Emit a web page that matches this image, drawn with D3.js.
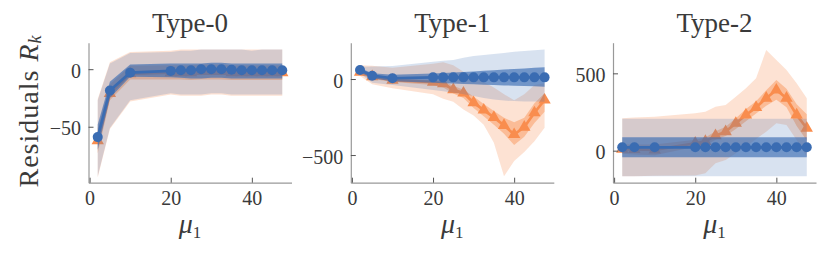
<!DOCTYPE html>
<html>
<head>
<meta charset="utf-8">
<script src="https://cdn.jsdelivr.net/npm/d3@7"></script>
<style>
body { margin: 0; background: #fff; }
text { font-family: "Liberation Serif", serif; fill: #3a3a3a; }
</style>
</head>
<body>
<svg width="830" height="253"></svg>
<script>
// x positions (mu_1) shared by every panel
var mu = [2, 5, 10, 20, 22.5, 25, 27.5, 30, 32.5, 35, 37.5, 40, 42.5, 45, 47.5];
var titles = ["Type-0", "Type-1", "Type-2"];
var xTicks = [0, 20, 40];
var yTicks = [[-50, 0], [-500, 0], [0, 500]];
var xDomain = [-0.275, 49.775];
var yDomains = [[-98.6, 23], [-682, 239], [-207, 698]];

// Type-0
var t0BlueMean  = [-59, -18.5, -3, -1.5, -1, -1, 0, 0, 0, -0.5, -1, -1, -1, -1, -1];
var t0BlueInLo  = [-70, -25, -6.5, -7, -7.5, -8, -8, -7.5, -7.5, -8, -8, -8, -8, -8, -8];
var t0BlueInHi  = [-48, -11, 4, 5, 5, 5, 5, 5.5, 5.5, 5, 5, 5, 5, 5, 5];
var t0BlueOutLo = [-93, -51, -27, -21, -22, -22, -22, -21, -21, -22, -22, -22, -22, -22, -22];
var t0BlueOutHi = [-27, 5, 14, 15, 16, 16, 17, 17, 17, 17, 17, 16, 17, 17, 17];
var t0OrgMean   = [-62, -21, -4, -3, -3, -3, -2, -2, -2, -3, -3, -3, -3, -3, -3];
var t0OrgInLo   = [-73, -27, -9, -9, -9, -9.5, -9, -9, -9, -9.5, -9.5, -9.5, -9.5, -9.5, -9.5];
var t0OrgInHi   = [-51, -13, 3, 3.5, 3.5, 3.5, 4, 4, 4, 3.5, 3.5, 3.5, 3.5, 3.5, 3.5];
var t0OrgOutLo  = [-94, -52, -28, -22, -23, -23, -23, -22, -22, -23, -23, -23, -23, -23, -23];
var t0OrgOutHi  = [-26, 6, 15, 16, 17, 17, 17, 17, 17, 17, 17, 17, 17, 17, 17];

// Type-1
var t1BlueMean  = [59, 22, 5, 11, 11, 11, 11, 11, 11, 11, 11, 11, 11, 11, 11];
var t1BlueInLo  = [45, 5, -15, -25, -28, -30, -32, -35, -37, -40, -42, -44, -46, -48, -50];
var t1BlueInHi  = [72, 38, 28, 37, 40, 43, 47, 50, 54, 58, 62, 66, 70, 74, 77];
var t1BlueOutLo = [37, -24, -39, -72, -80, -90, -100, -112, -125, -135, -142, -145, -147, -148, -149];
var t1BlueOutHi = [81, 82, 85, 114, 120, 126, 140, 151, 158, 165, 172, 180, 185, 190, 195];
var t1OrgMean   = [45, 15, -7, -20, -30, -70, -92, -155, -204, -252, -305, -365, -316, -222, -138];
var t1OrgInLo   = [30, 0, -20, -40, -55, -95, -125, -190, -245, -300, -360, -434, -380, -290, -215];
var t1OrgInHi   = [60, 30, 5, -8, -15, -45, -70, -115, -165, -210, -255, -285, -255, -160, -94];
var t1OrgOutLo  = [20, -35, -60, -100, -130, -150, -200, -240, -300, -420, -640, -540, -480, -410, -320];
var t1OrgOutHi  = [90, 88, 75, 100, 110, 90, 48, 20, -20, -55, -100, -140, -100, -40, -28];

// Type-2
var t2BlueMean  = [22, 22, 22, 22, 22, 22, 22, 22, 22, 22, 22, 22, 22, 22, 22];
var t2BlueInLo  = [-43, -43, -43, -43, -43, -43, -43, -43, -43, -43, -43, -43, -43, -43, -43];
var t2BlueInHi  = [87, 87, 87, 87, 87, 87, 87, 87, 87, 87, 87, 87, 87, 87, 87];
var t2BlueOutLo = [-166, -166, -166, -166, -166, -166, -166, -166, -166, -166, -166, -166, -166, -166, -166];
var t2BlueOutHi = [207, 207, 207, 207, 207, 207, 207, 207, 207, 207, 207, 207, 207, 207, 207];
var t2OrgMean   = [10, 8, 5, 48, 60, 97, 123, 177, 231, 280, 339, 392, 339, 231, 145];
var t2OrgInLo   = [-20, -25, -30, 25, 35, 70, 95, 140, 190, 240, 290, 330, 280, 160, 65];
var t2OrgInHi   = [40, 40, 40, 70, 85, 125, 155, 209, 270, 320, 390, 457, 400, 300, 235];
var t2OrgOutLo  = [-165, -165, -162, -160, -146, -82, -60, -17, 26, 75, 123, 177, 166, 69, -39];
var t2OrgOutHi  = [209, 215, 219, 242, 251, 284, 295, 349, 403, 468, 651, 586, 522, 436, 339];

var panels = [
    { blue: [t0BlueMean, t0BlueInLo, t0BlueInHi, t0BlueOutLo, t0BlueOutHi],
      org:  [t0OrgMean, t0OrgInLo, t0OrgInHi, t0OrgOutLo, t0OrgOutHi] },
    { blue: [t1BlueMean, t1BlueInLo, t1BlueInHi, t1BlueOutLo, t1BlueOutHi],
      org:  [t1OrgMean, t1OrgInLo, t1OrgInHi, t1OrgOutLo, t1OrgOutHi] },
    { blue: [t2BlueMean, t2BlueInLo, t2BlueInHi, t2BlueOutLo, t2BlueOutHi],
      org:  [t2OrgMean, t2OrgInLo, t2OrgInHi, t2OrgOutLo, t2OrgOutHi] }
];

var blue = "#3a6cb2";
var orange = "#f98d4e";

var svg = d3.select("svg");
var axTop = 42.7, axBottom = 182.7, axWidth = 203;
var axLefts = [88.5, 350.8, 613];

panels.forEach(function(p, i) {
    var x = d3.scaleLinear().domain(xDomain).range([axLefts[i], axLefts[i] + axWidth]);
    var y = d3.scaleLinear().domain(yDomains[i]).range([axBottom, axTop]);
    var g = svg.append("g");

    function band(lo, hi) {
        return d3.area()
            .x(function(d, j) { return x(mu[j]); })
            .y0(function(d, j) { return y(lo[j]); })
            .y1(function(d, j) { return y(hi[j]); })(mu);
    }
    var line = d3.line()
        .x(function(d, j) { return x(mu[j]); })
        .y(function(d) { return y(d); });

    // orange first, blue drawn on top of it
    [[p.org, orange], [p.blue, blue]].forEach(function(s, k) {
        var vals = s[0], col = s[1];
        g.append("path").attr("d", band(vals[3], vals[4]))
            .attr("fill", col).attr("fill-opacity", k == 0 ? 0.25 : 0.2);
        g.append("path").attr("d", band(vals[1], vals[2]))
            .attr("fill", col).attr("fill-opacity", k == 0 ? 0.45 : 0.65);
        g.append("path").attr("d", line(vals[0]))
            .attr("fill", "none").attr("stroke", col).attr("stroke-width", 2.7);
        if (k == 0) {
            g.selectAll(".tri" + i).data(vals[0]).enter().append("path")
                .attr("d", d3.symbol(d3.symbolTriangle, 66))
                .attr("transform", function(d, j) { return "translate(" + x(mu[j]) + "," + y(d) + ")"; })
                .attr("fill", col);
        } else {
            g.selectAll(".dot" + i).data(vals[0]).enter().append("circle")
                .attr("cx", function(d, j) { return x(mu[j]); })
                .attr("cy", function(d) { return y(d); })
                .attr("r", 5)
                .attr("fill", col);
        }
    });

    // axes: ticks point inward
    var ya = g.append("g")
        .attr("transform", "translate(" + axLefts[i] + ",0)")
        .call(d3.axisLeft(y).tickValues(yTicks[i]).tickSizeInner(-5).tickSizeOuter(0).tickPadding(7.5));
    var xa = g.append("g")
        .attr("transform", "translate(0," + axBottom + ")")
        .call(d3.axisBottom(x).tickValues(xTicks).tickSizeInner(-5).tickSizeOuter(0));
    [ya, xa].forEach(function(a) {
        a.select(".domain").attr("stroke", "#999").attr("stroke-width", 1.2);
        a.selectAll(".tick line").attr("stroke", "#555");
        a.selectAll("text").style("font-family", "Liberation Serif").attr("font-size", 20).attr("fill", "#444");
    });
    ya.selectAll("text").attr("dy", "0.4em");
    xa.selectAll("text").attr("dy", null).attr("y", 22);

    var cx = axLefts[i] + axWidth / 2;
    g.append("text").attr("x", cx).attr("y", 32)
        .attr("text-anchor", "middle").attr("font-size", 27)
        .text(titles[i]);

    var xl = g.append("text").attr("x", cx).attr("y", 233)
        .attr("text-anchor", "middle").attr("font-size", 28);
    xl.append("tspan").attr("font-style", "italic").text("μ");
    xl.append("tspan").attr("font-size", 17).attr("dy", 5).text("1");
});

var yl = svg.append("text")
    .attr("transform", "translate(38,111) rotate(-90)")
    .attr("text-anchor", "middle")
    .attr("font-size", 28)
    .attr("letter-spacing", 1);
yl.append("tspan").text("Residuals ");
yl.append("tspan").attr("font-style", "italic").text("R");
yl.append("tspan").attr("font-style", "italic").attr("font-size", 18).attr("dy", 3).text("k");
</script>
</body>
</html>
